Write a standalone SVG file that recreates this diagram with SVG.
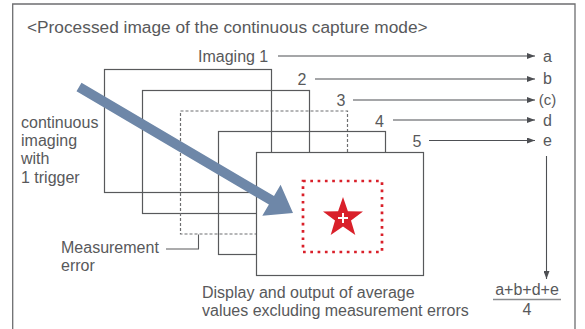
<svg xmlns="http://www.w3.org/2000/svg" width="585" height="329" viewBox="0 0 585 329">
  <defs>
    <style>
      .txt { font-family: "Liberation Sans", Arial, sans-serif; font-size: 16px; fill: #58595b; }
      .title { font-size: 17.3px; }
      .small { font-size: 15px; }
      .frame { fill: none; stroke: #6d6e70; stroke-width: 1.3; }
      .img { fill: none; stroke: #58595b; stroke-width: 1.2; }
      .img-front { fill: #ffffff; stroke: #58595b; stroke-width: 1.2; }
      .img-err { fill: none; stroke: #6d6e70; stroke-width: 1.2; stroke-dasharray: 3 2; }
      .lead { fill: none; stroke: #58595b; stroke-width: 1.1; }
      .conn { fill: none; stroke: #4d4f53; stroke-width: 1.1; }
    </style>
    <marker id="tip" viewBox="0 0 8 6" refX="8" refY="3" markerWidth="8" markerHeight="6" markerUnits="userSpaceOnUse" orient="auto">
      <path d="M0,0 L8,3 L0,6 Z" fill="#4d4f53"/>
    </marker>
  </defs>

  <!-- outer frame (open at the bottom) -->
  <path class="frame" d="M12.7,330 V4 H575 V330"/>

  <text class="txt title" x="27" y="33">&lt;Processed image of the continuous capture mode&gt;</text>

  <!-- stack of captured images -->
  <g id="image1"><rect class="img" x="104.5" y="69.5" width="167" height="123"/></g>
  <g id="image2"><rect class="img" x="142.5" y="90.5" width="167" height="123"/></g>
  <g id="image3"><rect class="img-err" x="180.5" y="111" width="167" height="123"/></g>
  <g id="image4"><rect class="img" x="218.5" y="131.5" width="167" height="123"/></g>
  <g id="image5">
    <rect class="img-front" x="256.5" y="152.5" width="167" height="123"/>
    <rect x="303" y="181" width="79" height="71" fill="none" stroke="#d9202a" stroke-width="2.7" stroke-dasharray="2.7 4.6"/>
    <polygon fill="#d9202a" points="343,197 347.9,211.2 363,211.5 351,220.6 355.3,235 343,226.4 330.7,235 335,220.6 323,211.5 338.1,211.2"/>
    <path d="M343,213 V223 M338,218 H348" stroke="#ffffff" stroke-width="2" fill="none"/>
  </g>

  <!-- labels -->
  <g id="label-imaging1"><text class="txt" x="198" y="62">Imaging 1</text></g>
  <g id="label-2"><text class="txt" x="302" y="85" text-anchor="middle">2</text></g>
  <g id="label-3"><text class="txt" x="341" y="106" text-anchor="middle">3</text></g>
  <g id="label-4"><text class="txt" x="379.5" y="126.5" text-anchor="middle">4</text></g>
  <g id="label-5"><text class="txt" x="417" y="147" text-anchor="middle">5</text></g>

  <g id="result-a"><text class="txt" x="547.5" y="62" text-anchor="middle">a</text></g>
  <g id="result-b"><text class="txt" x="547.5" y="84" text-anchor="middle">b</text></g>
  <g id="result-c"><text class="txt small" x="547.5" y="105" text-anchor="middle">(c)</text></g>
  <g id="result-d"><text class="txt" x="547.5" y="125.5" text-anchor="middle">d</text></g>
  <g id="result-e"><text class="txt" x="547.5" y="146" text-anchor="middle">e</text></g>

  <g id="trigger-note">
    <text class="txt" x="21" y="128">continuous</text>
    <text class="txt" x="21" y="146">imaging</text>
    <text class="txt" x="21" y="164">with</text>
    <text class="txt" x="21" y="183">1 trigger</text>
  </g>

  <g id="error-note">
    <text class="txt" x="61" y="253">Measurement</text>
    <text class="txt" x="61" y="271">error</text>
    <path class="lead" d="M166,249 H198.5 V234.5"/>
  </g>

  <g id="output-note">
    <text class="txt" x="202" y="298">Display and output of average</text>
    <text class="txt" x="202" y="316">values excluding measurement errors</text>
  </g>

  <g id="average">
    <text class="txt" x="527" y="295" text-anchor="middle">a+b+d+e</text>
    <line x1="493" y1="299.5" x2="561" y2="299.5" stroke="#8a8c8e" stroke-width="1.5"/>
    <text class="txt" x="527" y="315" text-anchor="middle">4</text>
  </g>

  <!-- connectors -->
  <g id="connectors">
    <line class="conn" x1="278" y1="56" x2="535" y2="56" marker-end="url(#tip)"/>
    <line class="conn" x1="315" y1="79" x2="535" y2="79" marker-end="url(#tip)"/>
    <line class="conn" x1="353" y1="100" x2="535" y2="100" marker-end="url(#tip)"/>
    <line class="conn" x1="393" y1="120" x2="535" y2="120" marker-end="url(#tip)"/>
    <line class="conn" x1="429" y1="140.5" x2="535" y2="140.5" marker-end="url(#tip)"/>
    <line class="conn" x1="546.5" y1="156" x2="546.5" y2="279" marker-end="url(#tip)"/>
  </g>

  <!-- trigger arrow across the stack -->
  <polygon id="trigger-arrow" fill="#6e87a8" points="81.5,82.7 274,196 280.6,184.8 293,213 262.3,215.8 268.9,204.6 76.5,91.3"/>
</svg>
